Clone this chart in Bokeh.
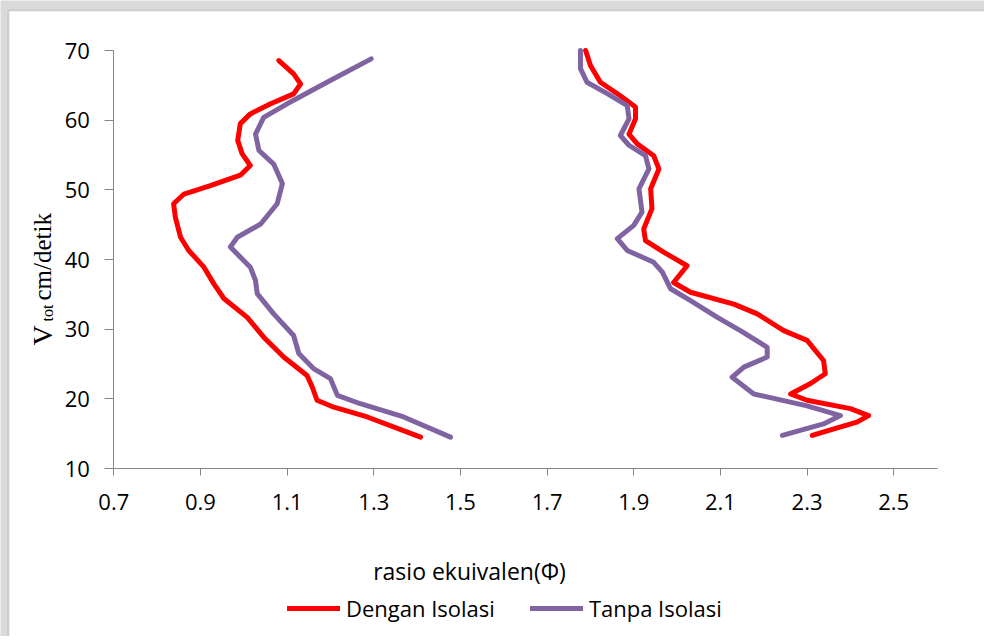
import math
from bokeh.plotting import figure
from bokeh.models import Legend, LegendItem, Range1d, FixedTicker, Label, BoxAnnotation
from bokeh.embed import file_html
from bokeh.resources import INLINE

# ---- data ----
x_ticks = [0.7, 0.9, 1.1, 1.3, 1.5, 1.7, 1.9, 2.1, 2.3, 2.5]
y_ticks = [10, 20, 30, 40, 50, 60, 70]

dengan_lean_phi = [1.081, 1.115, 1.131, 1.115, 1.062, 1.015, 0.992, 0.986, 0.996, 1.015, 0.992, 0.923,
                   0.862, 0.838, 0.842, 0.854, 0.873, 0.908, 0.931, 0.954, 1.008, 1.046, 1.092, 1.146,
                   1.158, 1.169, 1.208, 1.285, 1.408]
dengan_lean_v = [68.56, 66.65, 65.2, 63.78, 62.35, 60.9, 59.5, 57.1, 55.2, 53.5, 52.1, 50.6,
                 49.4, 48.0, 46.1, 43.2, 41.3, 38.9, 36.5, 34.4, 31.7, 28.85, 26.0, 23.35,
                 21.7, 19.8, 18.8, 17.4, 14.5]

dengan_rich_phi = [1.789, 1.800, 1.823, 1.869, 1.904, 1.904, 1.889, 1.908, 1.946, 1.958, 1.939, 1.942,
                   1.923, 1.927, 1.969, 2.023, 1.992, 2.031, 2.131, 2.185, 2.246, 2.300, 2.338, 2.342,
                   2.308, 2.262, 2.300, 2.400, 2.442, 2.415, 2.362, 2.312]
dengan_rich_v = [70.0, 67.85, 65.45, 63.5, 61.9, 60.2, 58.0, 56.6, 54.9, 53.0, 50.15, 47.3,
                 44.4, 42.7, 41.05, 39.1, 36.7, 35.3, 33.6, 32.2, 29.8, 28.4, 25.5, 23.6,
                 22.2, 20.7, 19.8, 18.6, 17.6, 16.65, 15.7, 14.75]

tanpa_lean_phi = [1.294, 1.192, 1.100, 1.046, 1.027, 1.035, 1.069, 1.089, 1.077, 1.039, 0.985, 0.969,
                  1.015, 1.027, 1.031, 1.069, 1.115, 1.127, 1.162, 1.200, 1.216, 1.269, 1.369, 1.477]
tanpa_lean_v = [68.8, 65.45, 62.35, 60.4, 58.0, 55.65, 53.7, 50.9, 48.0, 45.1, 43.2, 41.8,
                38.9, 37.0, 35.1, 32.2, 29.1, 26.5, 24.3, 22.9, 20.5, 19.3, 17.4, 14.5]

tanpa_rich_phi = [1.777, 1.777, 1.792, 1.839, 1.885, 1.889, 1.869, 1.889, 1.927, 1.935, 1.912, 1.919,
                  1.900, 1.862, 1.885, 1.946, 1.966, 1.985, 2.031, 2.093, 2.146, 2.208, 2.208, 2.154,
                  2.127, 2.177, 2.300, 2.377, 2.338, 2.243]
tanpa_rich_v = [70.0, 67.4, 65.45, 63.8, 62.1, 60.2, 57.8, 56.4, 54.9, 53.0, 50.15, 46.8,
                44.9, 43.0, 41.3, 39.6, 38.2, 35.8, 34.1, 31.7, 29.8, 27.4, 26.0, 24.55,
                23.1, 20.7, 19.0, 17.6, 16.4, 14.75]

series_names = ["Dengan Isolasi", "Tanpa Isolasi"]
x_title = "rasio  ekuivalen(\u03a6)"

RED = "#FF0000"
PURPLE = "#8064A2"
AXIS = "#868686"
TICK_FONT = "Open Sans"

# axis extents of the chart
X_MIN, X_MAX = 0.7, 2.6
Y_MIN, Y_MAX = 10, 70

W, H = 984, 636
# the plotting frame covers the whole canvas; axes are pinned at X_MIN / Y_MIN
PX_PER_X = 433.3
PX_PER_Y = 6.967
AX_LEFT_PX, AX_TOP_PX = 113.3, 50.0
x_lo = X_MIN - AX_LEFT_PX / PX_PER_X
x_hi = X_MIN + (W - AX_LEFT_PX) / PX_PER_X
y_hi = Y_MAX + AX_TOP_PX / PX_PER_Y
y_lo = Y_MAX - (H - AX_TOP_PX) / PX_PER_Y

p = figure(width=W, height=H, output_backend="svg", toolbar_location=None,
           x_range=Range1d(x_lo, x_hi), y_range=Range1d(y_lo, y_hi),
           min_border=0, min_border_left=0, min_border_right=0,
           min_border_top=0, min_border_bottom=0)
p.outline_line_color = None
p.xgrid.visible = False
p.ygrid.visible = False
p.background_fill_color = "#dadada"
p.border_fill_color = "white"

# white chart area with grey frame (only top/left edges fall inside the canvas)
p.add_layout(BoxAnnotation(left=x_lo + 8 / PX_PER_X, top=y_hi - 10 / PX_PER_Y,
                           right=x_hi + 1.0, bottom=y_lo - 10.0,
                           fill_color="white", fill_alpha=1.0,
                           line_color="#8a8a8a", line_width=2, level="underlay"))

for ax in (p.xaxis[0], p.yaxis[0]):
    ax.axis_line_color = AXIS
    ax.major_tick_line_color = AXIS
    ax.minor_tick_line_color = None
    ax.major_tick_in = 0
    ax.major_label_text_font = TICK_FONT
    ax.major_label_text_font_size = "22px"
    ax.major_label_text_color = "black"
p.xaxis[0].ticker = FixedTicker(ticks=x_ticks)
p.yaxis[0].ticker = FixedTicker(ticks=y_ticks)
p.xaxis[0].fixed_location = Y_MIN
p.yaxis[0].fixed_location = X_MIN
p.xaxis[0].bounds = (X_MIN, X_MAX)
p.yaxis[0].bounds = (Y_MIN, Y_MAX)
p.xaxis[0].major_tick_out = 7
p.yaxis[0].major_tick_out = 9
p.xaxis[0].major_label_standoff = 18
p.yaxis[0].major_label_standoff = 15
p.xaxis[0].major_label_overrides = {t: f"{t:.1f}" for t in x_ticks}

r1 = p.multi_line(xs=[dengan_lean_phi, dengan_rich_phi], ys=[dengan_lean_v, dengan_rich_v],
                  line_color=RED, line_width=5, line_join="round", line_cap="round")
r2 = p.multi_line(xs=[tanpa_lean_phi, tanpa_rich_phi], ys=[tanpa_lean_v, tanpa_rich_v],
                  line_color=PURPLE, line_width=5, line_join="round", line_cap="round")

def px_x(px):
    return x_lo + px / PX_PER_X

def px_y(py):
    return y_hi - py / PX_PER_Y

# x-axis title
p.add_layout(Label(x=px_x(472), y=px_y(570), text=x_title, text_align="center",
                   text_baseline="alphabetic", text_font=TICK_FONT, text_font_size="23px",
                   text_color="black"))

# y-axis title with subscript
ang = math.pi / 2
p.add_layout(Label(x=px_x(41.7), y=px_y(345), text="V", angle=ang, text_align="left",
                   text_baseline="alphabetic", text_font="Liberation Serif",
                   text_font_size="28px", text_color="black"))
p.add_layout(Label(x=px_x(46.7), y=px_y(321), text="tot", angle=ang, text_align="left",
                   text_baseline="alphabetic", text_font="Liberation Serif",
                   text_font_size="16px", text_color="black"))
p.add_layout(Label(x=px_x(41.7), y=px_y(300), text="cm/detik", angle=ang, text_align="left",
                   text_baseline="alphabetic", text_font="Liberation Serif",
                   text_font_size="25px", text_color="black"))

legend = Legend(items=[LegendItem(label=series_names[0], renderers=[r1]),
                       LegendItem(label=series_names[1], renderers=[r2])],
                orientation="horizontal", location=(287, 13),
                padding=0, margin=0, spacing=35, label_standoff=6,
                glyph_width=53, glyph_height=26, label_height=26,
                label_text_font=TICK_FONT, label_text_font_size="22px",
                label_text_color="black",
                border_line_color=None, background_fill_alpha=0)
p.add_layout(legend, "center")

open("out.html", "w").write(file_html(p, INLINE))
